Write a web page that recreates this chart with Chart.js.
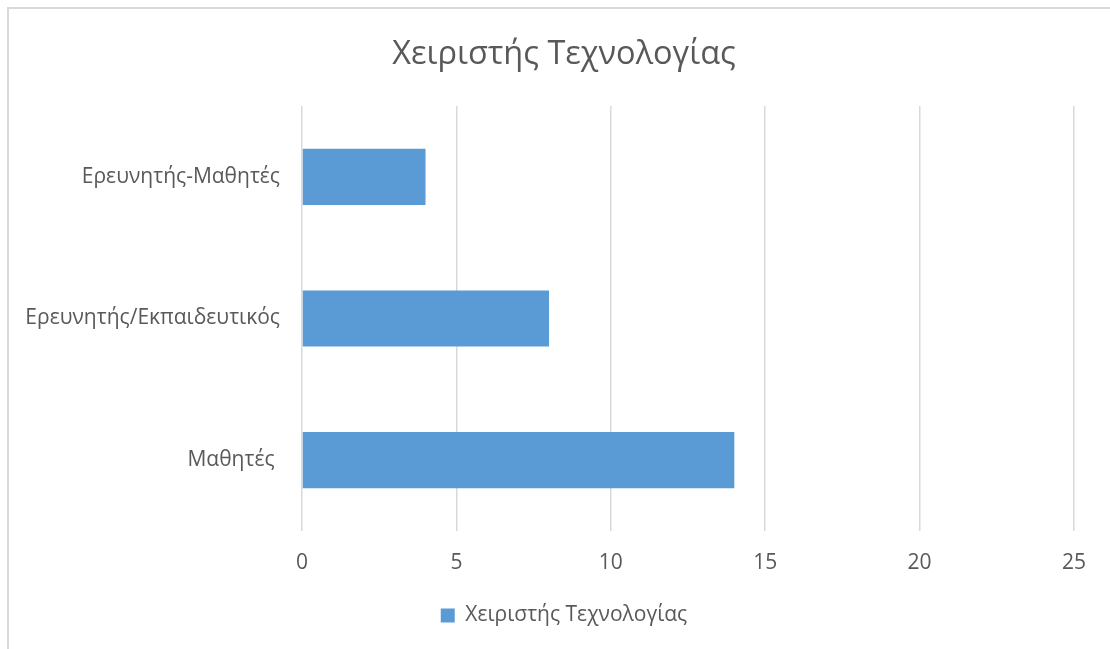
<!DOCTYPE html>
<html>
<head>
<meta charset="utf-8">
<script src="https://cdn.jsdelivr.net/npm/chart.js@4"></script>
<style>
  html, body { margin: 0; padding: 0; background: #fff; overflow: hidden; }
  #frame {
    position: absolute; left: 7px; top: 7px;
    width: 1120px; height: 700px;
    border-left: 2px solid #d9d9d9; border-top: 2px solid #d9d9d9;
  }
  #techChart { position: absolute; left: 0; top: 0; }
</style>
</head>
<body>
<div id="frame">
  <canvas id="techChart" width="1110" height="627"></canvas>
</div>
<script>
// Horizontal bar: roles using the technology, top to bottom
const categories = ['Ερευνητής-Μαθητές', 'Ερευνητής/Εκπαιδευτικός', 'Μαθητές '];
const seriesName = 'Χειριστής Τεχνολογίας';
const values = [4, 8, 14];
const xTicks = [0, 5, 10, 15, 20, 25];

const FONT = "'Open Sans', 'DejaVu Sans', sans-serif";
const TEXT = '#595959';
const GRID = '#d9d9d9';
const BAR = '#5b9bd5';

document.addEventListener('DOMContentLoaded', function () {
    const ctx = document.getElementById('techChart');
    new Chart(ctx, {
        type: 'bar',
        data: {
            labels: categories,
            datasets: [{
                label: seriesName,
                data: values,
                backgroundColor: BAR,
                borderWidth: 0,
                categoryPercentage: 1,
                barPercentage: 0.396
            }]
        },
        options: {
            indexAxis: 'y',
            responsive: false,
            animation: false,
            layout: { padding: 0 },
            plugins: {
                title: {
                    display: true,
                    text: seriesName,
                    color: TEXT,
                    font: { family: FONT, size: 32.5, weight: 'normal' },
                    padding: { top: 26, bottom: 32 }
                },
                legend: {
                    position: 'bottom',
                    labels: {
                        color: TEXT,
                        font: { family: FONT, size: 21 },
                        boxWidth: 14, boxHeight: 14,
                        padding: 10
                    }
                },
                tooltip: { enabled: false }
            },
            scales: {
                x: {
                    min: xTicks[0],
                    max: xTicks[xTicks.length - 1],
                    afterBuildTicks: s => { s.ticks = xTicks.map(v => ({ value: v })); },
                    grid: { color: GRID, lineWidth: 1.5, drawTicks: false },
                    border: { display: false },
                    ticks: { color: TEXT, font: { family: FONT, size: 21 }, padding: 19 },
                    // keep a wide right margin on the plot only, so title and legend stay centred on the canvas
                    afterFit: s => { s.height = 64; s.paddingRight = 45; }
                },
                y: {
                    grid: { display: false, drawTicks: false },
                    border: { display: false },
                    ticks: { color: TEXT, font: { family: FONT, size: 21 }, padding: 22 },
                    afterFit: s => { s.width = 293; }
                }
            }
        }
    });
});
</script>
</body>
</html>
